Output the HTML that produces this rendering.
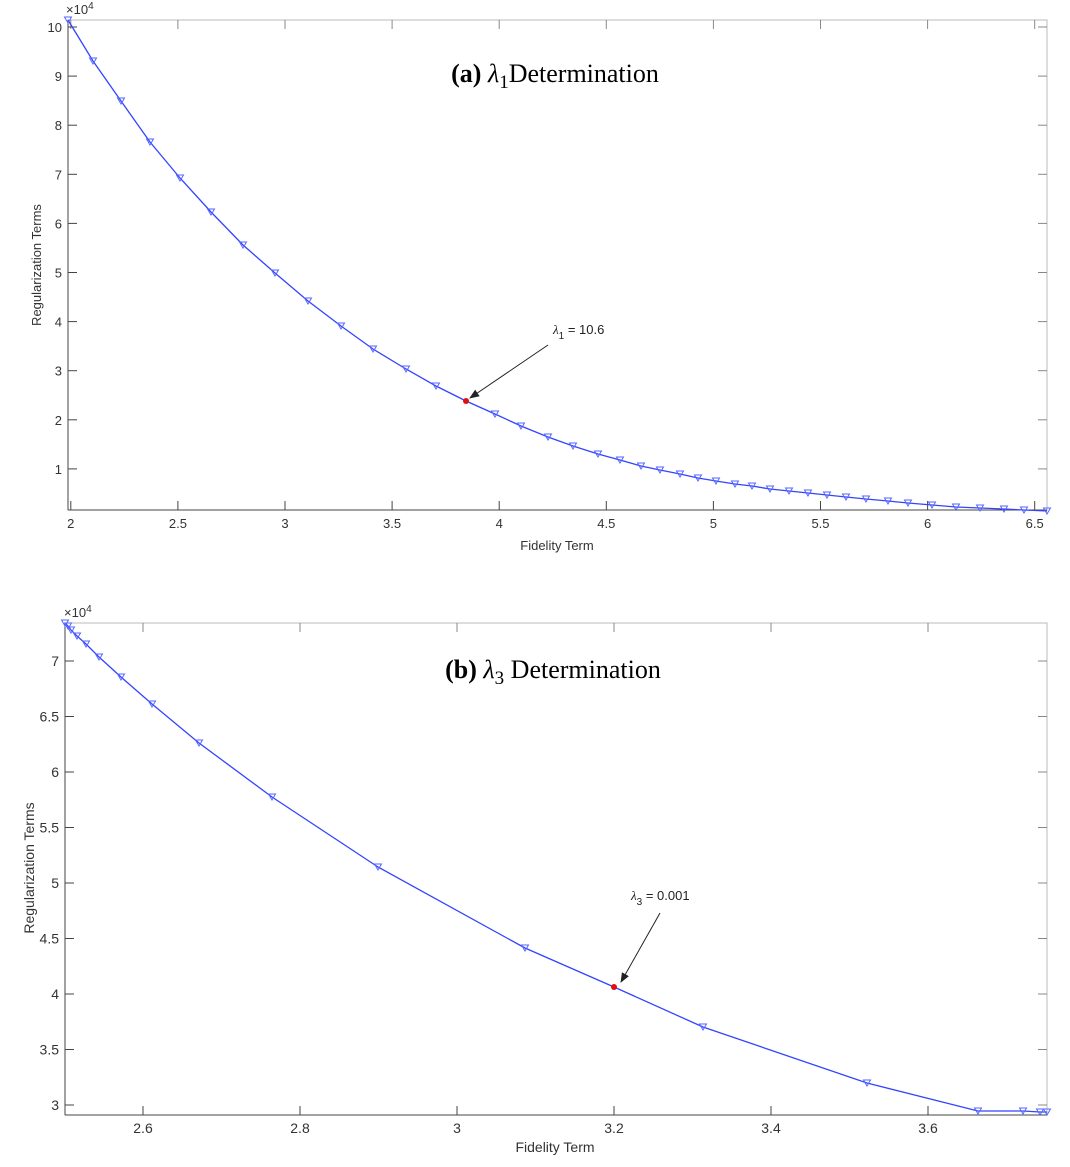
<!DOCTYPE html>
<html><head><meta charset="utf-8"><style>
html,body{margin:0;padding:0;background:#fff;}
svg{display:block;font-family:"Liberation Sans",sans-serif;}
</style></head><body>
<svg id="s" width="1070" height="1167" viewBox="0 0 1070 1167" xmlns="http://www.w3.org/2000/svg">
<defs>
<marker id="ah" markerWidth="10" markerHeight="10" refX="9" refY="5" orient="auto" markerUnits="userSpaceOnUse"><path d="M0,1 L10,5 L0,9 z" fill="#222"/></marker>
</defs>
</svg>
<script>
const s=document.getElementById('s');const NS='http://www.w3.org/2000/svg';
function el(t,a,txt){const e=document.createElementNS(NS,t);for(const k in a)e.setAttribute(k,a[k]);if(txt!==undefined)e.textContent=txt;s.appendChild(e);return e;}
function axes(L,T,R,B,xt,xf,yt,yf,fmtX,fmtY,fs){
 el('rect',{x:L,y:T,width:R-L,height:B-T,fill:'none',stroke:'#bbb','stroke-width':1});
 el('line',{x1:L,y1:B,x2:R,y2:B,stroke:'#444','stroke-width':1});
 el('line',{x1:L,y1:T,x2:L,y2:B,stroke:'#444','stroke-width':1});
 xt.forEach(v=>{const x=xf(v);el('line',{x1:x,y1:B,x2:x,y2:B-9,stroke:'#444'});el('line',{x1:x,y1:T,x2:x,y2:T+9,stroke:'#888'});
  el('text',{x:x,y:B+18,'font-size':fs,'text-anchor':'middle',fill:'#333'},fmtX(v));});
 yt.forEach(v=>{const y=yf(v);el('line',{x1:L,y1:y,x2:L+9,y2:y,stroke:'#444'});el('line',{x1:R,y1:y,x2:R-9,y2:y,stroke:'#888'});
  el('text',{x:L-6,y:y+5,'font-size':fs,'text-anchor':'end',fill:'#333'},fmtY(v));});
}
function series(pts,red){
 el('polyline',{points:pts.map(p=>p.join(',')).join(' '),fill:'none',stroke:'#3344ff','stroke-width':1.3});
 pts.forEach((p,i)=>{if(i===red)return;const [x,y]=p;el('path',{d:`M${x-3.5},${y-3} L${x+3.5},${y-3} L${x},${y+3} Z`,fill:'none',stroke:'#5566ff','stroke-width':1});});
 const r=pts[red];el('circle',{cx:r[0],cy:r[1],r:3,fill:'#e01010'});
}
// Plot 1
const x1=v=>70.8+(v-2)*214.2, y1=v=>27+(10-v)*49.1;
axes(68,20,1047,510,[2,2.5,3,3.5,4,4.5,5,5.5,6,6.5],x1,[1,2,3,4,5,6,7,8,9,10],y1,v=>String(v),v=>String(v),13);
el('text',{x:66,y:14,'font-size':13,fill:'#333'},'×10').appendChild((()=>{const t=document.createElementNS(NS,'tspan');t.setAttribute('dy',-5);t.setAttribute('font-size',10);t.textContent='4';return t;})());
const p1=[[68,20],[93,61],[121,101],[150,142],[180,178],[211,212],[243,245],[275,273],[308,301],[341,326],[373,349],[406,369],[436,386],[466,401],[495,414],[521,426],[548,437],[573,446],[598,454],[620,460],[641,466],[660,470],[680,474],[698,478],[716,481],[735,484],[752,486],[770,489],[789,491],[808,493],[827,495],[846,497],[866,499],[888,501],[908,503],[932,505],[956,507],[980,508],[1004,509],[1024,510],[1047,511]];
series(p1,13);
el('text',{x:557,y:550,'font-size':13,'text-anchor':'middle',fill:'#333'},'Fidelity Term');
el('text',{x:0,y:0,'font-size':13,'text-anchor':'middle',fill:'#333',transform:'translate(41,265) rotate(-90)'},'Regularization Terms');
el('line',{x1:548,y1:345,x2:470,y2:398,stroke:'#222','stroke-width':1,'marker-end':'url(#ah)'});
el('text',{x:553,y:334,'font-size':13,fill:'#222'}).innerHTML='<tspan font-style="italic" font-family="Liberation Serif">λ</tspan><tspan dy="5" font-size="10">1</tspan><tspan dy="-5"> = 10.6</tspan>';
el('text',{x:555,y:82,'font-size':26,'text-anchor':'middle',fill:'#000','font-family':'Liberation Serif'}).innerHTML='<tspan font-weight="bold">(a)</tspan> <tspan font-style="italic">λ</tspan><tspan dy="6" font-size="19">1</tspan><tspan dy="-6">Determination</tspan>';
// Plot 2
const x2=v=>143+(v-2.6)*785, y2=v=>661+(7-v)*111;
axes(65,623,1047,1115,[2.6,2.8,3,3.2,3.4,3.6],x2,[3,3.5,4,4.5,5,5.5,6,6.5,7],y2,v=>(Math.round(v*10)/10).toString(),v=>(Math.round(v*10)/10).toString(),14);
el('text',{x:64,y:617,'font-size':13,fill:'#333'},'×10').appendChild((()=>{const t=document.createElementNS(NS,'tspan');t.setAttribute('dy',-5);t.setAttribute('font-size',10);t.textContent='4';return t;})());
const p2=[[65,623],[68,626],[71,630],[77,636],[86,644],[99,657],[121,677],[152,704],[199,743],[272,797],[378,867],[525,948],[614,987],[703,1027],[867,1083],[978,1111],[1023,1111],[1040,1112],[1047,1112]];
series(p2,12);
el('text',{x:555,y:1152,'font-size':14,'text-anchor':'middle',fill:'#333'},'Fidelity Term');
el('text',{x:0,y:0,'font-size':14,'text-anchor':'middle',fill:'#333',transform:'translate(34,868) rotate(-90)'},'Regularization Terms');
el('line',{x1:660,y1:913,x2:621,y2:982,stroke:'#222','stroke-width':1,'marker-end':'url(#ah)'});
el('text',{x:631,y:900,'font-size':13,fill:'#222'}).innerHTML='<tspan font-style="italic" font-family="Liberation Serif">λ</tspan><tspan dy="5" font-size="10">3</tspan><tspan dy="-5"> = 0.001</tspan>';
el('text',{x:553,y:678,'font-size':26,'text-anchor':'middle',fill:'#000','font-family':'Liberation Serif'}).innerHTML='<tspan font-weight="bold">(b)</tspan> <tspan font-style="italic">λ</tspan><tspan dy="6" font-size="19">3</tspan><tspan dy="-6"> Determination</tspan>';
</script>
</body></html>
